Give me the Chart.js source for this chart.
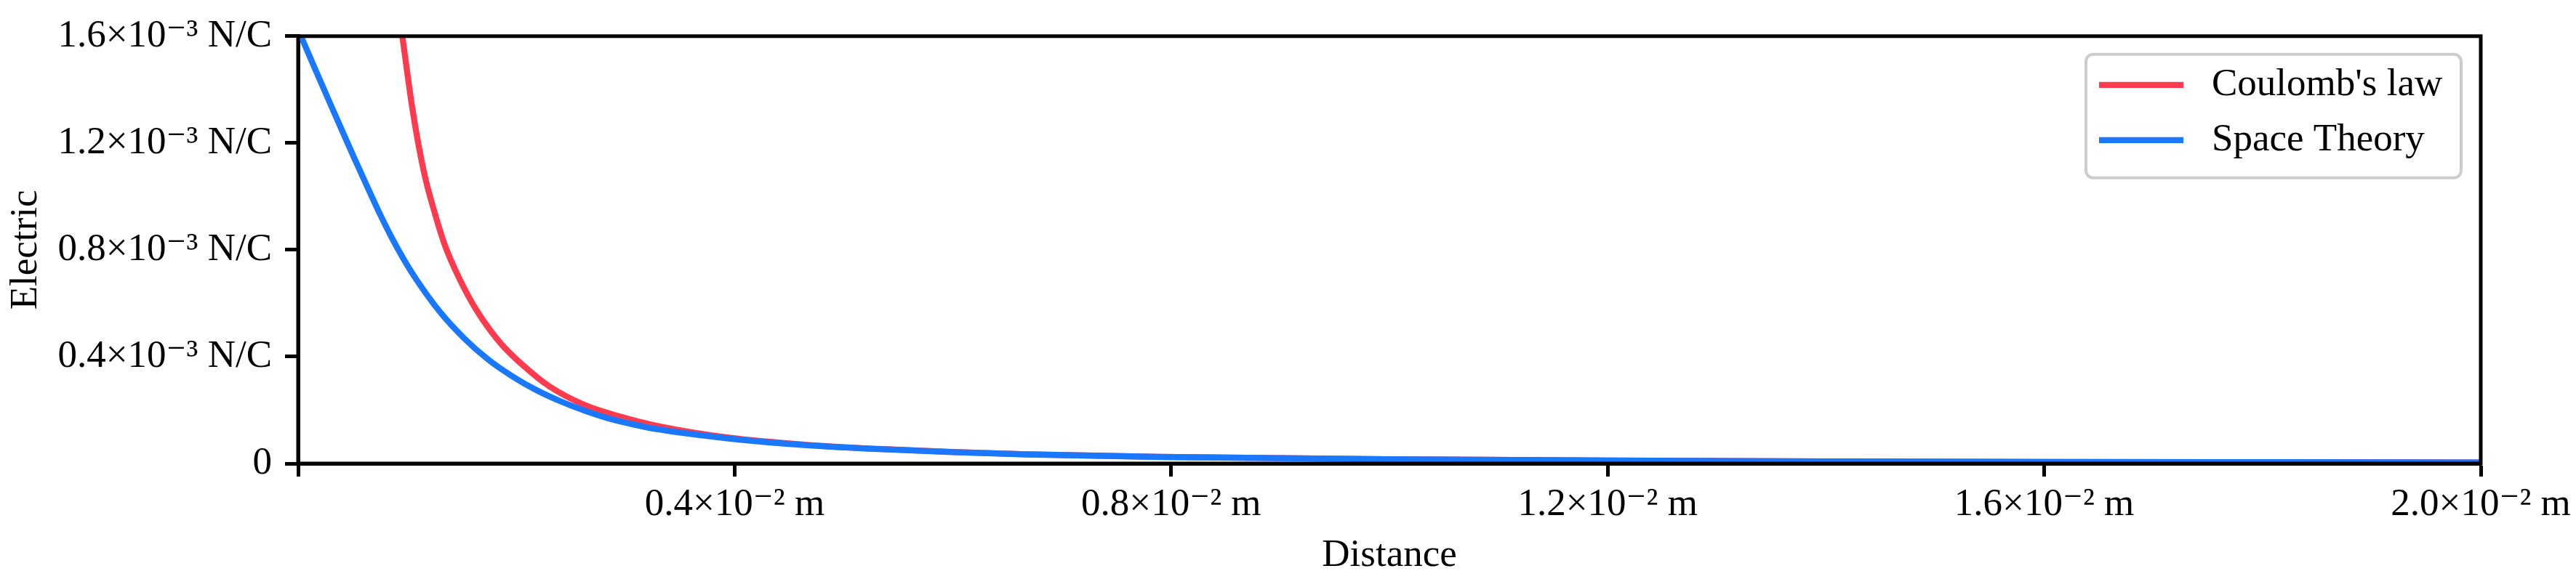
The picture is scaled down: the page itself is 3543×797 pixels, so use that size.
<!DOCTYPE html>
<html>
<head>
<meta charset="utf-8">
<script src="https://cdn.jsdelivr.net/npm/chart.js@4.4.1/dist/chart.umd.min.js"></script>
<style>
html, body { margin: 0; padding: 0; background: #fff; }
canvas { display: block; }
</style>
</head>
<body>
<canvas id="chart" width="3543" height="797"></canvas>
<script>
// distance in units of 10^-2 m, field in units of 10^-3 N/C
const coulombDistance = [0.0955, 0.1044, 0.1099, 0.1166, 0.1255, 0.1344, 0.1477, 0.1632, 0.1854, 0.2077,
    0.2298, 0.2632, 0.2965, 0.3298, 0.396, 0.464, 0.532, 0.600, 0.668, 0.790, 1.0, 1.2, 1.4, 1.6, 1.8, 2.0];
const coulombField = [1.60, 1.337, 1.203, 1.068, 0.934, 0.818, 0.693, 0.576, 0.451, 0.362,
    0.290, 0.218, 0.174, 0.140, 0.096, 0.0705, 0.0545, 0.0430, 0.0345, 0.0250, 0.0160, 0.0110, 0.0080, 0.0060, 0.0048, 0.0038];

const spaceDistance = [0, 0.0155, 0.030, 0.0411, 0.0522, 0.0633, 0.0744, 0.0855, 0.0966, 0.1077,
    0.1299, 0.1521, 0.1743, 0.1965, 0.2187, 0.241, 0.2632, 0.2853, 0.3076, 0.3298,
    0.396, 0.464, 0.532, 0.600, 0.668, 0.790, 1.0, 1.2, 1.4, 1.6, 1.8, 2.0];
const spaceField = [1.625, 1.478, 1.342, 1.239, 1.137, 1.037, 0.939, 0.848, 0.766, 0.693,
    0.568, 0.469, 0.389, 0.326, 0.274, 0.232, 0.197, 0.168, 0.146, 0.128,
    0.093, 0.069, 0.054, 0.0425, 0.034, 0.0245, 0.0158, 0.0109, 0.0079, 0.0060, 0.0048, 0.0038];

const seriesLabels = ["Coulomb's law", 'Space Theory'];
const xTickValues = [0, 0.4, 0.8, 1.2, 1.6, 2.0];
const yTickValues = [0, 0.4, 0.8, 1.2, 1.6];

const FONT = '"Liberation Serif", "DejaVu Serif", serif';
const RED = '#fc3b4f';
const BLUE = '#1a78fe';

function toPoints(xs, ys) {
    return xs.map((x, i) => ({ x: x, y: ys[i] }));
}

function xTickLabel(v) {
    return v === 0 ? '' : v.toFixed(1) + '×10⁻² m';
}

function yTickLabel(v) {
    return v === 0 ? '0' : v.toFixed(1) + '×10⁻³ N/C';
}

// black box around the plot, drawn over the lines like matplotlib spines
const framePlugin = {
    id: 'frame',
    afterDatasetsDraw(chart) {
        const { ctx, chartArea: a } = chart;
        ctx.save();
        ctx.strokeStyle = '#000';
        ctx.lineWidth = 5;
        ctx.strokeRect(a.left, a.top, a.right - a.left, a.bottom - a.top);
        ctx.restore();
    }
};

function roundedRect(ctx, x, y, w, h, r) {
    ctx.beginPath();
    ctx.moveTo(x + r, y);
    ctx.arcTo(x + w, y, x + w, y + h, r);
    ctx.arcTo(x + w, y + h, x, y + h, r);
    ctx.arcTo(x, y + h, x, y, r);
    ctx.arcTo(x, y, x + w, y, r);
    ctx.closePath();
}

// legend in the upper right corner with a rounded grey frame
const legendBoxPlugin = {
    id: 'legendBox',
    afterDraw(chart) {
        const { ctx, chartArea: a } = chart;
        const w = 516, h = 170;
        const x0 = a.right - 27 - w, y0 = a.top + 25;
        ctx.save();
        roundedRect(ctx, x0, y0, w, h, 10);
        ctx.fillStyle = 'rgba(255,255,255,0.8)';
        ctx.fill();
        ctx.lineWidth = 4;
        ctx.strokeStyle = '#cccccc';
        ctx.stroke();
        ctx.font = '53px ' + FONT;
        ctx.textBaseline = 'middle';
        ctx.textAlign = 'left';
        chart.data.datasets.forEach((ds, i) => {
            const y = y0 + 42 + i * 76;
            ctx.strokeStyle = ds.borderColor;
            ctx.lineWidth = ds.borderWidth;
            ctx.beginPath();
            ctx.moveTo(x0 + 18, y);
            ctx.lineTo(x0 + 134, y);
            ctx.stroke();
            ctx.fillStyle = '#000';
            ctx.fillText(ds.label, x0 + 173, y);
        });
        ctx.restore();
    }
};

const tickFont = { family: FONT, size: 53 };

new Chart(document.getElementById('chart'), {
    type: 'line',
    data: {
        datasets: [{
            label: seriesLabels[0],
            data: toPoints(coulombDistance, coulombField),
            borderColor: RED,
            borderWidth: 8.3,
            order: 1,
        }, {
            label: seriesLabels[1],
            data: toPoints(spaceDistance, spaceField),
            borderColor: BLUE,
            borderWidth: 8.3,
            order: 0,
        }]
    },
    options: {
        responsive: false,
        devicePixelRatio: 1,
        animation: false,
        layout: { padding: { left: 0, right: 131, top: 43, bottom: 0 } },
        elements: {
            point: { radius: 0 },
            line: { cubicInterpolationMode: 'monotone', fill: false }
        },
        datasets: { line: { clip: 0 } },
        plugins: {
            legend: { display: false },
            tooltip: { enabled: false }
        },
        scales: {
            x: {
                type: 'linear',
                min: 0,
                max: 2.0,
                afterBuildTicks: s => { s.ticks = xTickValues.map(v => ({ value: v })); },
                afterFit: s => { s.height = 159; },
                grid: { drawOnChartArea: false, drawTicks: true, tickLength: 18, tickWidth: 5, tickColor: '#000' },
                border: { display: true, color: '#000', width: 5 },
                ticks: {
                    color: '#000', font: tickFont, padding: 7,
                    maxRotation: 0, autoSkip: false,
                    callback: v => xTickLabel(v)
                },
                title: { display: true, text: 'Distance', color: '#000', font: tickFont, padding: 0 }
            },
            y: {
                type: 'linear',
                min: 0,
                max: 1.6,
                afterBuildTicks: s => { s.ticks = yTickValues.map(v => ({ value: v })); },
                afterFit: s => { s.width = 410; },
                grid: { drawOnChartArea: false, drawTicks: true, tickLength: 18, tickWidth: 5, tickColor: '#000' },
                border: { display: true, color: '#000', width: 5 },
                ticks: {
                    color: '#000', font: tickFont, padding: 18,
                    autoSkip: false,
                    callback: v => yTickLabel(v)
                },
                title: { display: true, text: 'Electric', color: '#000', font: tickFont, padding: { top: 4, bottom: 0 } }
            }
        }
    },
    plugins: [framePlugin, legendBoxPlugin]
});
</script>
</body>
</html>
